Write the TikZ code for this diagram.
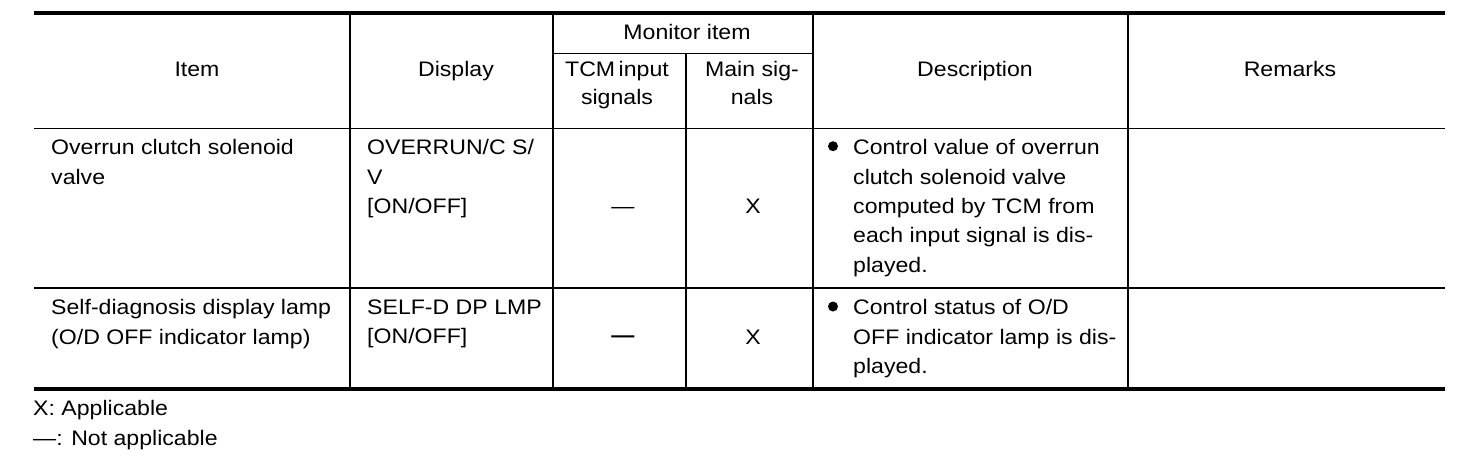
\documentclass[tikz,border=0pt]{standalone}
\usepackage{fontspec}
\setmainfont{Liberation Sans}[FakeStretch=1.1]
\newcommand{\cellfont}{\fontsize{21}{29.3}\selectfont}
\newcommand{\headfont}{\fontsize{21}{27.5}\selectfont}
\tikzset{
  cell/.style={anchor=north west,inner sep=0pt,align=left,font=\cellfont,execute at begin node=\strut},
  head/.style={anchor=north,inner sep=0pt,align=center,font=\cellfont,execute at begin node=\strut},
  subhead/.style={head,font=\headfont},
  flag/.style={anchor=base,inner sep=0pt,font=\cellfont},
  dot/.style={circle,fill,inner sep=0pt,minimum size=10pt},
  rule/.style={line width=1.5pt}
}

\begin{document}
\begin{tikzpicture}[x=1pt,y=-1pt]
  \useasboundingbox (0,0) rectangle (1472,466);
  % table rules
  \foreach \x in {350,553,813,1128}
    \draw[rule] (\x,13) -- (\x,388.7);
  \draw[rule] (686,53.5) -- (686,388.7);
  \draw[line width=1pt] (553,53.5) -- (813,53.5);
  \draw[line width=1pt] (34,128.5) -- (1445,128.5);
  \draw[line width=2pt] (34,288) -- (1445,288);
  \draw[line width=4pt] (34,13) -- (1445,13);
  \draw[line width=4pt] (34,388.7) -- (1445,388.7);

  % header
  \node[head] (item) at (197,55.5) {Item};
  \node[head] (display) at (456,55.5) {Display};
  \node[head] (monitor) at (687,18.5) {Monitor item};
  \node[subhead] (tcm) at (617,61.5) {TCM\,input\\signals};
  \node[subhead] (mainsig) at (752,61.5) {Main sig-\\nals};
  \node[head] (desc) at (975,55.5) {Description};
  \node[head] (remarks) at (1290,55.5) {Remarks};

  % overrun clutch row
  \node[cell] (item1) at (51,139.5) {Overrun clutch solenoid\\valve};
  \node[cell] (disp1) at (367,139.5) {OVERRUN/C S/\\V\\{[ON/OFF]}};
  \node[flag] (na1) at (623,213) {—};
  \node[flag] (x1) at (753,213) {X};
  \node[dot] (b1) at (833,146.2) {};
  \node[cell] (desc1) at (853,139.5) {Control value of overrun\\clutch solenoid valve\\computed by TCM from\\each input signal is dis-\\played.};

  % self-diagnosis row
  \node[cell] (item2) at (51,299.5) {Self-diagnosis display lamp\\(O/D OFF indicator lamp)};
  \node[cell] (disp2) at (367,299.5) {SELF-D DP LMP\\{[ON/OFF]}};
  \node[flag,font=\cellfont\bfseries] (na2) at (623,342.5) {—};
  \node[flag] (x2) at (753,344) {X};
  \node[dot] (b2) at (833,306.5) {};
  \node[cell] (desc2) at (853,299.5) {Control status of O/D\\OFF indicator lamp is dis-\\played.};

  % legend
  \node[cell] (legend) at (33,400.5) {X: Applicable\\—: Not applicable};
\end{tikzpicture}
\end{document}
